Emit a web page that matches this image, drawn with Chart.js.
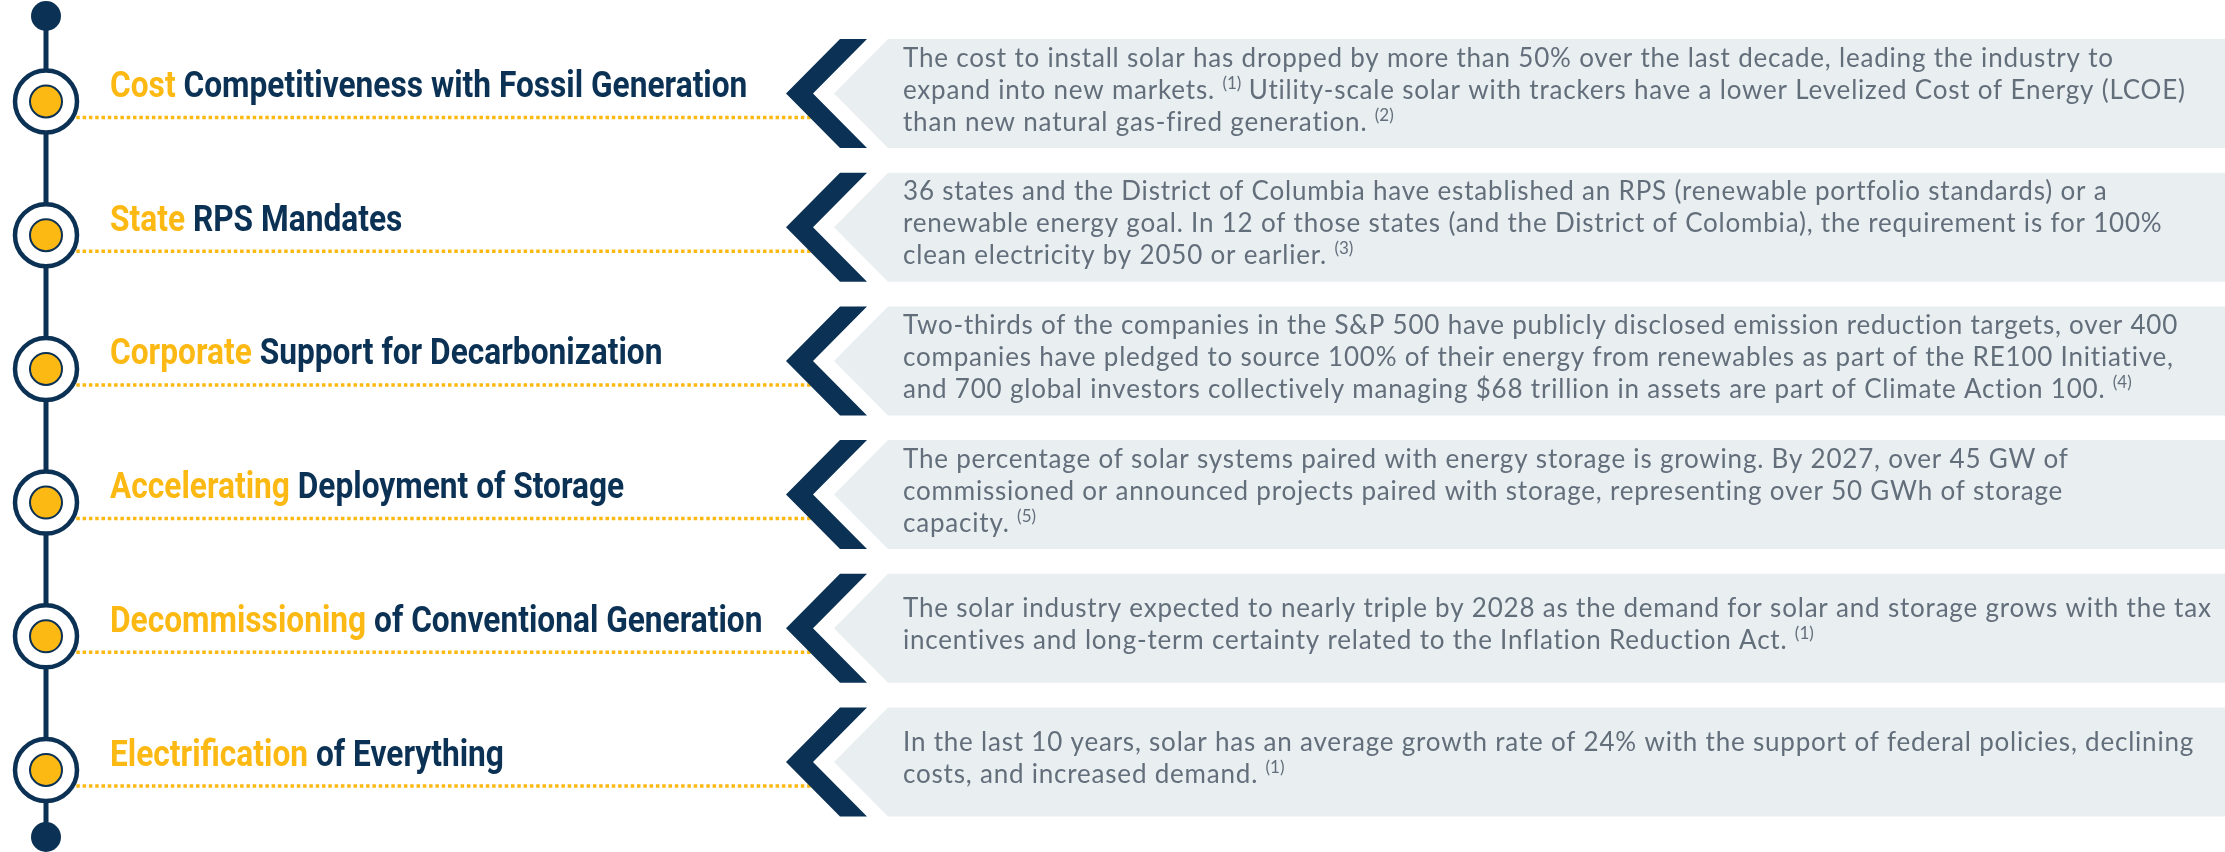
<!DOCTYPE html>
<html>
<head>
<meta charset="utf-8">
<title>Solar market drivers</title>
<script src="https://cdn.jsdelivr.net/npm/chart.js@4.4.1/dist/chart.umd.min.js"></script>
<style>
  html, body { margin: 0; padding: 0; background: #fff; }
  canvas { display: block; }
</style>
</head>
<body>
<canvas id="drivers-chart" width="2225" height="852"></canvas>
<script>
// one entry per row, top to bottom
const highlights = ['Cost', 'State', 'Corporate', 'Accelerating', 'Decommissioning', 'Electrification'];
const titles = [
    'Competitiveness with Fossil Generation',
    'RPS Mandates',
    'Support for Decarbonization',
    'Deployment of Storage',
    'of Conventional Generation',
    'of Everything'
];
// {n} marks a superscript note "(n)"
const descriptions = [
    ['The cost to install solar has dropped by more than 50% over the last decade, leading the industry to',
     'expand into new markets. {1} Utility-scale solar with trackers have a lower Levelized Cost of Energy (LCOE)',
     'than new natural gas-fired generation. {2}'],
    ['36 states and the District of Columbia have established an RPS (renewable portfolio standards) or a',
     'renewable energy goal. In 12 of those states (and the District of Colombia), the requirement is for 100%',
     'clean electricity by 2050 or earlier. {3}'],
    ['Two-thirds of the companies in the S&P 500 have publicly disclosed emission reduction targets, over 400',
     'companies have pledged to source 100% of their energy from renewables as part of the RE100 Initiative,',
     'and 700 global investors collectively managing $68 trillion in assets are part of Climate Action 100. {4}'],
    ['The percentage of solar systems paired with energy storage is growing. By 2027, over 45 GW of',
     'commissioned or announced projects paired with storage, representing over 50 GWh of storage',
     'capacity. {5}'],
    ['The solar industry expected to nearly triple by 2028 as the demand for solar and storage grows with the tax',
     'incentives and long-term certainty related to the Inflation Reduction Act. {1}'],
    ['In the last 10 years, solar has an average growth rate of 24% with the support of federal policies, declining',
     'costs, and increased demand. {1}']
];

const NAVY = '#0b3154';
const YELLOW = '#fdb913';
const BOX_GREY = '#e9eef1';
const TEXT_GREY = '#636e7b';

const ROW_PX = 133.7;         // pixels between rows
const TOP_PX = 101.5;         // first ring centre
const LINE_X = 46;            // timeline x
const TITLE_X = 110;
const TITLE_SQUEEZE = 0.88;   // titles are set in a condensed face
const TEXT_X = 903;
const TEXT_LEAD = 32;

const rows = highlights.map((_, i) => i);
const yMin = -TOP_PX / ROW_PX;
const yMax = (852 - TOP_PX) / ROW_PX;

function drawRichLine(ctx, text, x, baseline) {
    const parts = text.split(/(\{\d\})/);
    let cx = x;
    parts.forEach(part => {
        if (!part) return;
        const note = part.match(/^\{(\d)\}$/);
        if (note) {
            ctx.font = '17px Lato';
            ctx.letterSpacing = '0px';
            const s = '(' + note[1] + ')';
            ctx.fillText(s, cx, baseline - 10);
            cx += ctx.measureText(s).width;
        } else {
            ctx.font = '26px Lato';
            ctx.letterSpacing = '0.8px';
            ctx.fillText(part, cx, baseline);
            cx += ctx.measureText(part).width;
        }
    });
    ctx.letterSpacing = '0px';
}

const panelPlugin = {
    id: 'panels',
    beforeDatasetsDraw(chart) {
        const ctx = chart.ctx;
        const xs = chart.scales.x;
        const ys = chart.scales.y;
        ctx.save();
        rows.forEach(i => {
            const cy = ys.getPixelForValue(i) - 8;
            ctx.fillStyle = BOX_GREY;
            ctx.beginPath();
            ctx.moveTo(xs.getPixelForValue(834), cy);
            ctx.lineTo(xs.getPixelForValue(888), cy - 54.5);
            ctx.lineTo(xs.getPixelForValue(2225), cy - 54.5);
            ctx.lineTo(xs.getPixelForValue(2225), cy + 54.5);
            ctx.lineTo(xs.getPixelForValue(888), cy + 54.5);
            ctx.closePath();
            ctx.fill();
        });
        ctx.restore();
    },
    afterDatasetsDraw(chart) {
        const ctx = chart.ctx;
        const xs = chart.scales.x;
        const ys = chart.scales.y;
        ctx.save();
        rows.forEach(i => {
            const ry = ys.getPixelForValue(i);
            const cy = ry - 8;

            // chevron
            ctx.fillStyle = NAVY;
            ctx.beginPath();
            ctx.moveTo(xs.getPixelForValue(840), cy - 54.5);
            ctx.lineTo(xs.getPixelForValue(867), cy - 54.5);
            ctx.lineTo(xs.getPixelForValue(813), cy);
            ctx.lineTo(xs.getPixelForValue(867), cy + 54.5);
            ctx.lineTo(xs.getPixelForValue(840), cy + 54.5);
            ctx.lineTo(xs.getPixelForValue(786), cy);
            ctx.closePath();
            ctx.fill();

            // title
            ctx.save();
            ctx.translate(xs.getPixelForValue(TITLE_X), ry - 4.5);
            ctx.scale(TITLE_SQUEEZE, 1);
            ctx.font = 'bold 36px Roboto';
            ctx.textBaseline = 'alphabetic';
            ctx.fillStyle = YELLOW;
            ctx.fillText(highlights[i], 0, 0);
            const w = ctx.measureText(highlights[i] + ' ').width;
            ctx.fillStyle = NAVY;
            ctx.fillText(titles[i], w, 0);
            ctx.restore();

            // description
            const lines = descriptions[i];
            const first = cy - (lines.length - 1) * TEXT_LEAD / 2 + 5;
            ctx.fillStyle = TEXT_GREY;
            ctx.textBaseline = 'alphabetic';
            lines.forEach((line, k) => {
                drawRichLine(ctx, line, xs.getPixelForValue(TEXT_X), first + k * TEXT_LEAD);
            });
        });
        ctx.restore();
    }
};

const timelineEnds = [yMin + 16 / ROW_PX, rows.length - 1 + 67 / ROW_PX];

const datasets = [
    {
        type: 'scatter',
        label: 'inner',
        data: rows.map(i => ({ x: LINE_X, y: i })),
        pointRadius: 16,
        pointBackgroundColor: YELLOW,
        pointBorderColor: NAVY,
        pointBorderWidth: 2,
        order: 0
    },
    {
        type: 'scatter',
        label: 'rings',
        data: rows.map(i => ({ x: LINE_X, y: i })),
        pointRadius: 31,
        pointBackgroundColor: '#ffffff',
        pointBorderColor: NAVY,
        pointBorderWidth: 4.5,
        order: 1
    },
    {
        type: 'scatter',
        label: 'ends',
        data: timelineEnds.map(v => ({ x: LINE_X, y: v })),
        pointRadius: 15,
        pointBackgroundColor: NAVY,
        pointBorderWidth: 0,
        order: 1
    },
    {
        type: 'line',
        label: 'timeline',
        data: timelineEnds.map(v => ({ x: LINE_X, y: v })),
        borderColor: NAVY,
        borderWidth: 5,
        pointRadius: 0,
        order: 3
    }
];

rows.forEach(i => {
    datasets.push({
        type: 'line',
        label: 'leader ' + i,
        data: [{ x: 70, y: i + 16 / ROW_PX }, { x: 815, y: i + 16 / ROW_PX }],
        borderColor: YELLOW,
        borderWidth: 3.5,
        borderDash: [3.5, 2.8],
        borderCapStyle: 'butt',
        pointRadius: 0,
        order: 4
    });
});

new Chart(document.getElementById('drivers-chart').getContext('2d'), {
    data: { datasets: datasets },
    options: {
        responsive: false,
        devicePixelRatio: 1,
        animation: false,
        events: [],
        layout: { padding: 0, autoPadding: false },
        datasets: { line: { clip: false }, scatter: { clip: false } },
        scales: {
            x: { type: 'linear', display: false, min: 0, max: 2225 },
            y: { type: 'linear', display: false, min: yMin, max: yMax, reverse: true }
        },
        plugins: {
            legend: { display: false },
            tooltip: { enabled: false }
        }
    },
    plugins: [panelPlugin]
});
</script>
</body>
</html>
